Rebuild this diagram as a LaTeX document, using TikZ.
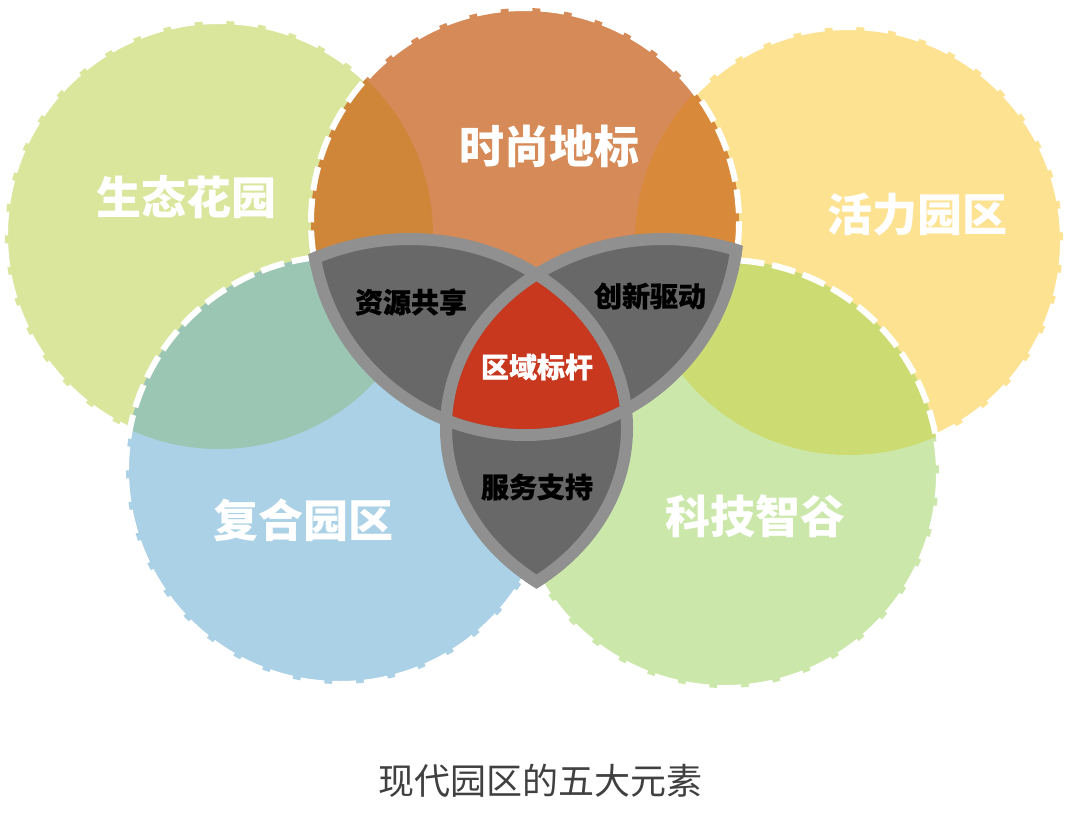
\documentclass[tikz,border=0pt]{standalone}
\usepackage{fontspec}
\usetikzlibrary{positioning}
\newfontfamily\cjk{Noto Sans CJK SC}
\newfontfamily\cjkheavy{Noto Sans CJK SC}[BoldFeatures={FakeBold=0.8}]
\definecolor{eco}{HTML}{D9E69C}
\definecolor{vit}{HTML}{FDE291}
\definecolor{mix}{HTML}{ABD1E6}
\definecolor{tec}{HTML}{CBE8AA}
\definecolor{fas}{HTML}{D58A57}
\definecolor{ecomix}{HTML}{9BC6B4}
\definecolor{vittec}{HTML}{CCDC73}
\definecolor{ecofas}{HTML}{D08639}
\definecolor{vitfas}{HTML}{D9893A}
\definecolor{rimc}{HTML}{909090}
\definecolor{lensc}{HTML}{686868}
\definecolor{corec}{HTML}{C8381F}
\definecolor{capc}{HTML}{404040}
\newcommand{\R}{214}
\tikzset{zone/.style={draw=white,line width=3pt,dash pattern=on 12pt off 4pt},
  rim/.style={draw=rimc,line width=6pt},
  big/.style={font=\cjk\bfseries\fontsize{22.5}{27}\selectfont,text=white},
  small/.style={font=\cjkheavy\bfseries\fontsize{14}{17}\selectfont,text=black},
  captext/.style={font=\cjk\fontsize{18}{22}\selectfont,text=capc}}
\begin{document}
\begin{tikzpicture}[x=.5pt,y=-.5pt]
\useasboundingbox (0,0) rectangle (1080,826);
\coordinate (gy) at (219,235); \coordinate (yl) at (849,241);
\coordinate (bl) at (340,470); \coordinate (gn) at (725,474);
\coordinate (og) at (525,222);
\coordinate (vb) at (410,428); \coordinate (vc) at (663,428);
% outer petals
\fill[eco] (gy) circle[radius=\R]; \draw[zone] (gy) circle[radius=\R];
\fill[vit] (yl) circle[radius=\R]; \draw[zone] (yl) circle[radius=\R];
\fill[mix] (bl) circle[radius=\R];
\begin{scope}\clip (gy) circle[radius=\R]; \fill[ecomix] (bl) circle[radius=\R];\end{scope}
\draw[zone] (bl) circle[radius=\R];
\fill[tec] (gn) circle[radius=\R];
\begin{scope}\clip (yl) circle[radius=\R]; \fill[vittec] (gn) circle[radius=\R];\end{scope}
\draw[zone] (gn) circle[radius=\R];
\fill[fas] (og) circle[radius=\R];
\begin{scope}\clip (gy) circle[radius=\R]; \fill[ecofas] (og) circle[radius=\R];\end{scope}
\begin{scope}\clip (yl) circle[radius=\R]; \fill[vitfas] (og) circle[radius=\R];\end{scope}
\draw[zone] (og) circle[radius=\R];
% inner venn
\begin{scope}\clip (og) circle[radius=213];
\fill[lensc] (vb) ellipse[x radius=217,y radius=189] (vc) ellipse[x radius=217,y radius=189];\end{scope}
\begin{scope}\clip (vb) ellipse[x radius=217,y radius=189];
\fill[lensc] (vc) ellipse[x radius=217,y radius=189];\end{scope}
\begin{scope}\clip (vb) ellipse[x radius=223,y radius=195] (vc) ellipse[x radius=223,y radius=195];
\draw[rim] (og) circle[radius=213];\end{scope}
\begin{scope}\clip (og) circle[radius=219] (vc) ellipse[x radius=223,y radius=195];
\draw[rim] (vb) ellipse[x radius=217,y radius=189];\end{scope}
\begin{scope}\clip (og) circle[radius=219] (vb) ellipse[x radius=223,y radius=195];
\draw[rim] (vc) ellipse[x radius=217,y radius=189];\end{scope}
\begin{scope}\clip (og) circle[radius=207]; \clip (vb) ellipse[x radius=211,y radius=183];
\fill[corec] (vc) ellipse[x radius=211,y radius=183];\end{scope}
% labels
\node[big] (fashion) at (549,146) {时尚地标};
\node[big] (eco) at (186,197) {生态花园};
\node[big] (vital) at (917,214) {活力园区};
\node[big] (mixed) at (303,520) {复合园区};
\node[big] (tech) at (755,516) {科技智谷};
\node[small] (share) at (411,302) {资源共享};
\node[small] (innov) at (650,296) {创新驱动};
\node[small,text=white] (bench) at (537,367) {区域标杆};
\node[small] (serve) at (537,487) {服务支持};
\node[captext] (title) at (540,781) {现代园区的五大元素};
\end{tikzpicture}
\end{document}
